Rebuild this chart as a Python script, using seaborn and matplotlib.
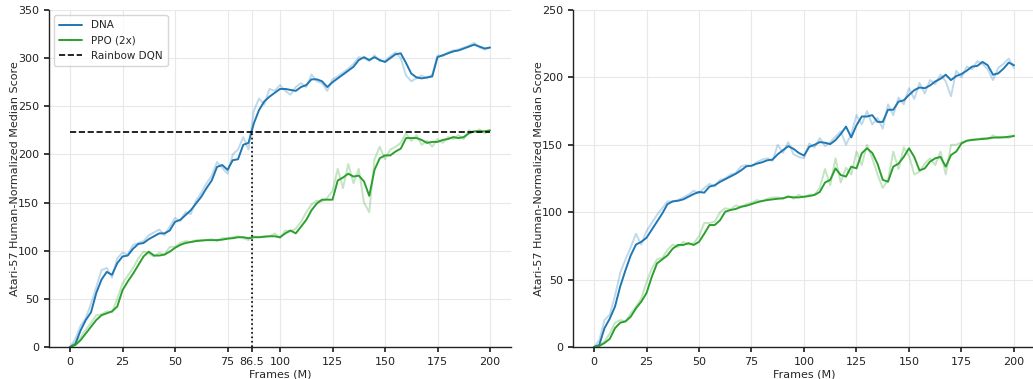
import numpy as np
import pandas as pd
import matplotlib
matplotlib.use("Agg")
import matplotlib.pyplot as plt
import seaborn as sns

# ---------------- data ----------------
frames = [i * 2.5 for i in range(81)]  # 0 .. 200 M

left_dna_smooth = [0, 3, 17, 28, 36, 56, 70, 78, 75, 87, 94, 95, 102, 107, 108, 112, 115, 118, 118, 121,
                   130, 132, 137, 142, 149, 156, 165, 173, 187, 189, 184, 194, 195, 210, 212, 232, 246, 255, 260, 264,
                   268, 268, 267, 266, 270, 272, 278, 278, 276, 270, 275, 279, 283, 287, 291, 298, 301, 298, 301, 298,
                   296, 300, 304, 305, 295, 284, 280, 279, 280, 281, 301, 303, 305, 307, 308, 310, 312, 314, 312, 310, 311]
left_dna_raw = [0, 8, 22, 30, 45, 62, 80, 82, 72, 92, 98, 96, 106, 108, 110, 116, 119, 122, 116, 125,
                134, 131, 140, 138, 152, 160, 170, 178, 192, 186, 180, 200, 205, 218, 205, 245, 258, 252, 268, 266,
                272, 266, 262, 270, 274, 270, 283, 276, 274, 266, 278, 281, 285, 289, 294, 301, 300, 297, 303, 297,
                297, 302, 306, 300, 282, 276, 279, 282, 279, 283, 303, 302, 306, 308, 309, 311, 313, 316, 311, 309, 311]
left_ppo_smooth = [0, 2, 7, 14, 21, 28, 33, 35, 37, 42, 59, 68, 76, 85, 94, 99, 95, 95, 96, 99,
                   103, 106, 108, 109, 110, 110.5, 111, 111, 111, 111.5, 112.5, 113, 114, 114, 113, 114, 114, 114.5, 115, 115,
                   114, 118, 121, 118, 125, 132, 142, 149, 153, 153, 153, 173, 176, 180, 177, 178, 172, 157, 184, 196,
                   199, 199, 203, 206, 217, 217, 217, 215, 212, 213, 213, 215, 216, 218, 217, 218, 222, 224, 224, 224, 225]
left_ppo_raw = [0, 4, 10, 18, 25, 33, 34, 37, 36, 50, 66, 74, 82, 92, 99, 97, 94, 98, 96, 104,
                104, 108, 110, 109, 111, 111, 111, 112, 110, 113, 113, 114, 115, 113, 111, 115, 114, 115, 115, 118,
                113, 121, 120, 123, 130, 140, 148, 152, 151, 155, 162, 185, 165, 190, 170, 185, 150, 140, 195, 208,
                195, 205, 208, 212, 222, 214, 220, 210, 214, 208, 216, 212, 218, 216, 220, 216, 225, 223, 226, 222, 225]

right_dna_smooth = [0, 1.5, 14, 21, 30, 45, 57, 68, 76, 78, 81, 87, 93, 99, 106, 108, 108.5, 109.5, 111.5, 113.5,
                    115, 114.5, 119, 120, 122.5, 124.5, 126.5, 128.5, 131, 134, 134.5, 136, 137, 138.5, 139, 143, 146, 149, 147, 144,
                    142, 148.5, 150, 152, 151.5, 150.5, 153.5, 158, 163.5, 155.5, 164.5, 171, 171, 172, 167, 167, 176, 176, 182, 183,
                    187, 190.5, 192.5, 192, 194, 197, 199, 202, 198, 201, 202.5, 205, 208, 208.5, 211.5, 209, 202, 203, 206.5, 211, 209]
right_dna_raw = [0, 5, 20, 24, 38, 55, 65, 74, 84, 76, 86, 92, 98, 103, 108, 108, 109, 111, 113, 116,
                 114, 118, 121, 119, 124, 125, 128, 129, 134, 135, 134, 137, 139, 140, 138, 150, 144, 152, 143, 141,
                 140, 151, 148, 155, 149, 152, 156, 160, 150, 158, 172, 165, 175, 165, 170, 162, 180, 172, 185, 180,
                 192, 184, 196, 188, 198, 195, 202, 197, 186, 205, 200, 208, 206, 212, 210, 206, 198, 207, 210, 214, 207]
right_ppo_smooth = [0, 0.7, 3, 6, 14, 18, 19, 22.5, 28.7, 33.6, 40, 52, 62, 65, 68, 73, 75.7, 75.7, 77, 75.7,
                    78, 84, 90.5, 90.5, 94, 100.4, 101.6, 102.4, 104, 104.8, 106, 107.3, 108.3, 109, 109.5, 110, 110.3, 111.5, 111, 111,
                    111.5, 112, 112.8, 115, 122, 124, 132.5, 127.6, 126.4, 133.8, 132.5, 143.7, 147.4, 144, 136, 124, 122.6, 133.8, 136, 141,
                    147.4, 141, 131, 132.5, 137.5, 140, 141, 133.8, 142.4, 145, 151, 153, 153.6, 154, 154.3, 154.8, 155.3, 155.5, 155.5, 156, 156.5]
right_ppo_raw = [0, 1, 4, 10, 18, 20, 19, 25, 30, 36, 48, 58, 65, 66, 72, 76, 74, 78, 76, 77,
                 82, 92, 92, 93, 100, 103, 102, 105, 104, 106, 107, 109, 108, 110, 111, 111, 110, 112, 110, 113,
                 111, 113, 113, 118, 132, 120, 140, 122, 133, 128, 145, 135, 150, 140, 128, 118, 124, 145, 132, 148,
                 142, 128, 130, 136, 140, 135, 145, 128, 150, 150, 152, 153, 154, 154, 155, 154, 157, 155, 156, 155, 157]

rainbow_dqn = 223
rainbow_frames = 86.5
x_ticks_left = [0, 25, 50, 75, 86.5, 100, 125, 150, 175, 200]
x_tick_labels_left = ["0", "25", "50", "75", "86.5", "100", "125", "150", "175", "200"]
x_ticks_right = [0, 25, 50, 75, 100, 125, 150, 175, 200]

BLUE = "#1f77b4"
GREEN = "#2ca02c"

# ---------------- style ----------------
sns.set_theme(style="ticks", rc={
    "axes.grid": True,
    "grid.color": "#e8e8e8",
    "grid.linewidth": 0.8,
    "axes.edgecolor": "#222222",
    "axes.linewidth": 1.0,
    "xtick.color": "#222222",
    "ytick.color": "#222222",
    "xtick.major.size": 3.5,
    "ytick.major.size": 3.5,
    "font.size": 8,
    "axes.labelsize": 8,
    "xtick.labelsize": 8,
    "ytick.labelsize": 8,
    "legend.fontsize": 7.5,
})
plt.rcParams["font.family"] = ["DejaVu Sans"]

fig = plt.figure(figsize=(10.33, 3.79), dpi=100)
axL = fig.add_axes([49 / 1033, 32 / 379, 462 / 1033, 337 / 379])
axR = fig.add_axes([573 / 1033, 32 / 379, 462 / 1033, 337 / 379])


def draw(ax, raw, smooth, color, label):
    df_raw = pd.DataFrame({"Frames": frames, "Score": raw})
    df_sm = pd.DataFrame({"Frames": frames, "Score": smooth})
    sns.lineplot(data=df_raw, x="Frames", y="Score", ax=ax, color=color, alpha=0.28, linewidth=1.4)
    sns.lineplot(data=df_sm, x="Frames", y="Score", ax=ax, color=color, linewidth=1.4, label=label)


# left
draw(axL, left_dna_raw, left_dna_smooth, BLUE, "DNA")
draw(axL, left_ppo_raw, left_ppo_smooth, GREEN, "PPO (2x)")
axL.plot([0, 200], [rainbow_dqn, rainbow_dqn], color="black", linestyle="--", linewidth=1.2, label="Rainbow DQN")
axL.plot([rainbow_frames, rainbow_frames], [0, rainbow_dqn], color="black", linestyle=":", linewidth=1.2)
axL.set_xlim(-10, 210)
axL.set_ylim(0, 350)
axL.set_xticks(x_ticks_left)
axL.set_xticklabels(x_tick_labels_left)
axL.set_yticks(range(0, 351, 50))
axL.set_xlabel("Frames (M)", labelpad=2)
axL.set_ylabel("Atari-57 Human-Normalized Median Score", labelpad=-1)
leg = axL.legend(loc="upper left", frameon=True, fancybox=True, borderpad=0.5, handlelength=2.2)
leg.get_frame().set_edgecolor("#cccccc")

# right
draw(axR, right_dna_raw, right_dna_smooth, BLUE, None)
draw(axR, right_ppo_raw, right_ppo_smooth, GREEN, None)
axR.set_xlim(-10, 210)
axR.set_ylim(0, 250)
axR.set_xticks(x_ticks_right)
axR.set_yticks(range(0, 251, 50))
axR.set_xlabel("Frames (M)", labelpad=2)
axR.set_ylabel("Atari-57 Human-Normalized Median Score", labelpad=-1)
if axR.get_legend() is not None:
    axR.get_legend().remove()

for ax in (axL, axR):
    sns.despine(ax=ax)

fig.savefig("out.png", dpi=100)
